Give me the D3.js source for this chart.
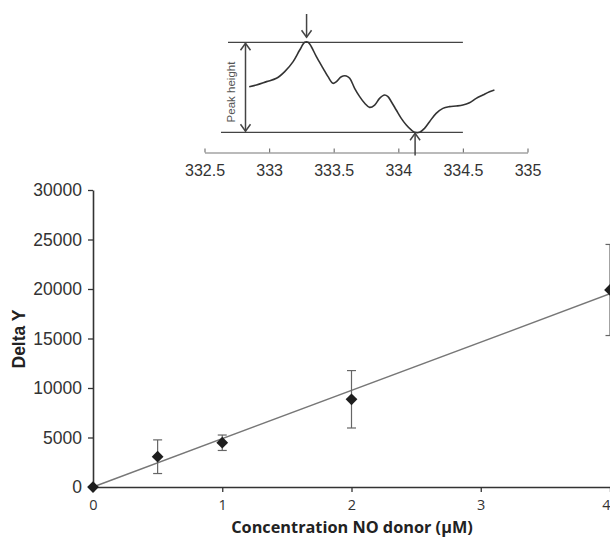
<!DOCTYPE html>
<html>
<head>
<meta charset="utf-8">
<script src="https://cdn.jsdelivr.net/npm/d3@7"></script>
<style>
  html, body { margin: 0; padding: 0; background: #ffffff; }
  svg { display: block; }
</style>
</head>
<body>
<svg id="chart" width="610" height="541"></svg>
<script>
// ---- Main chart data ----
const concentrations = [0, 0.5, 1, 2, 4];
const deltaY = [0, 3060, 4470, 8860, 19900];
const deltaYErr = [0, 1700, 780, 2900, 4600];
const trendSlope = 4880; // linear fit through origin
const yTicks = [0, 5000, 10000, 15000, 20000, 25000, 30000];
const xTicks = [0, 1, 2, 3, 4];

// ---- Inset spectrum data (field, relative signal) ----
const specField = [332.846, 332.902, 332.980, 333.057, 333.121, 333.186, 333.237, 333.276, 333.302, 333.327,
  333.366, 333.418, 333.456, 333.495, 333.521, 333.559, 333.598, 333.624, 333.662, 333.701,
  333.740, 333.778, 333.817, 333.855, 333.894, 333.920, 333.946, 333.984, 334.023, 334.062,
  334.100, 334.126, 334.165, 334.203, 334.242, 334.293, 334.345, 334.396, 334.448, 334.500,
  334.551, 334.603, 334.654, 334.706, 334.744];
const specSignal = [50.7, 52.6, 56.3, 60.0, 67.4, 78.5, 91.4, 100, 100, 95.1,
  84.0, 71.1, 61.8, 54.4, 56.3, 61.8, 62.6, 60.0, 48.9, 39.6,
  32.2, 27.7, 30.3, 37.7, 41.4, 39.6, 34.0, 24.8, 15.5, 8.1,
  2.6, 0, 0, 4.4, 11.8, 21.1, 26.6, 28.5, 29.2, 30.3,
  32.9, 37.7, 41.4, 45.1, 47.0];
const insetTicks = [332.5, 333, 333.5, 334, 334.5, 335];
const peakMaxField = 333.29;
const peakMinField = 334.13;

const svg = d3.select("#chart");
const axisColor = "#333";

// ================= Main chart =================
const x = d3.scaleLinear().domain([0, 4]).range([93, 610]);
const y = d3.scaleLinear().domain([0, 30000]).range([487, 190]);

// Y axis
const yAxis = svg.append("g")
  .attr("transform", `translate(${x(0)},0)`)
  .call(d3.axisLeft(y).tickValues(yTicks).tickSize(5).tickSizeOuter(0).tickPadding(6).tickFormat(d3.format("d")));
yAxis.select(".domain").attr("stroke", axisColor).attr("stroke-width", 1.6);
yAxis.selectAll(".tick line").attr("stroke", axisColor).attr("stroke-width", 1.3);
yAxis.selectAll(".tick text")
  .attr("fill", "#333").style("font-family", "'Liberation Sans', Arial, sans-serif").style("font-size", "17.5px");

// X axis
const xAxis = svg.append("g")
  .attr("transform", `translate(0,${y(0)})`)
  .call(d3.axisBottom(x).tickValues(xTicks).tickSize(5).tickSizeOuter(0).tickPadding(8).tickFormat(d3.format("d")));
xAxis.select(".domain").attr("stroke", axisColor).attr("stroke-width", 1.6);
xAxis.selectAll(".tick line").attr("stroke", axisColor).attr("stroke-width", 1.3);
xAxis.selectAll(".tick text")
  .attr("fill", "#333").style("font-family", "'Open Sans', sans-serif").style("font-size", "14.5px")
  .attr("text-anchor", d => d === 4 ? "end" : "middle");

// Trend line
svg.append("line")
  .attr("x1", x(0)).attr("y1", y(0))
  .attr("x2", x(4)).attr("y2", y(trendSlope * 4))
  .attr("stroke", "#777").attr("stroke-width", 1.4);

// Error bars
const pts = concentrations.map((c, i) => ({ c, v: deltaY[i], e: deltaYErr[i] }));
const eb = svg.append("g").attr("stroke", "#666").attr("stroke-width", 1.2);
pts.filter(d => d.e > 0).forEach(d => {
  eb.append("line").attr("x1", x(d.c)).attr("x2", x(d.c)).attr("y1", y(d.v - d.e)).attr("y2", y(d.v + d.e));
  eb.append("line").attr("x1", x(d.c) - 4.5).attr("x2", x(d.c) + 4.5).attr("y1", y(d.v + d.e)).attr("y2", y(d.v + d.e));
  eb.append("line").attr("x1", x(d.c) - 4.5).attr("x2", x(d.c) + 4.5).attr("y1", y(d.v - d.e)).attr("y2", y(d.v - d.e));
});

// Diamonds
svg.append("g").selectAll("path").data(pts).join("path")
  .attr("d", d3.symbol().type(d3.symbolDiamond2).size(88))
  .attr("transform", d => `translate(${x(d.c)},${y(d.v)})`)
  .attr("fill", "#1e1e1e");

// Axis titles
svg.append("text")
  .attr("transform", `translate(25,339) rotate(-90)`)
  .attr("text-anchor", "middle")
  .attr("fill", "#222")
  .style("font-family", "'Liberation Sans', Arial, sans-serif").style("font-size", "17.5px").style("font-weight", "bold")
  .text("Delta Y");

svg.append("text")
  .attr("x", 352).attr("y", 533)
  .attr("text-anchor", "middle")
  .attr("fill", "#222")
  .style("font-family", "'Open Sans', sans-serif").style("font-size", "16.3px").style("font-weight", "bold")
  .text("Concentration NO donor (μM)");

// ================= Inset =================
const ix = d3.scaleLinear().domain([332.5, 335]).range([204.5, 527.5]);
const iy = d3.scaleLinear().domain([0, 100]).range([132.3, 42.3]);
const insetAxisY = 152.5;
const gray = "#444";

const ia = svg.append("g")
  .attr("transform", `translate(0,${insetAxisY})`)
  .call(d3.axisBottom(ix).tickValues(insetTicks).tickSize(-4).tickSizeOuter(0).tickPadding(12).tickFormat(d => String(d)));
ia.select(".domain").attr("stroke", "#777").attr("stroke-width", 1.2);
ia.selectAll(".tick line").attr("stroke", "#777").attr("stroke-width", 1.2);
ia.selectAll(".tick text")
  .attr("fill", "#333").style("font-family", "'Liberation Sans', Arial, sans-serif").style("font-size", "16px");

// Reference horizontal lines
svg.append("line").attr("x1", 228).attr("x2", ix(334.5)).attr("y1", iy(100)).attr("y2", iy(100))
  .attr("stroke", gray).attr("stroke-width", 1.2);
svg.append("line").attr("x1", 221).attr("x2", ix(334.5)).attr("y1", iy(0)).attr("y2", iy(0))
  .attr("stroke", gray).attr("stroke-width", 1.2);

// Spectrum
const spec = specField.map((f, i) => [f, specSignal[i]]);
svg.append("path")
  .datum(spec)
  .attr("d", d3.line().x(d => ix(d[0])).y(d => iy(d[1])).curve(d3.curveCatmullRom.alpha(0.5)))
  .attr("fill", "none").attr("stroke", "#333").attr("stroke-width", 1.6);

// Arrow helper (open chevron head)
function arrowHead(px, py, dir) { // dir: 1 = pointing down, -1 = pointing up
  const h = 7 * dir, w = 5;
  svg.append("path")
    .attr("d", `M${px - w},${py - h} L${px},${py} L${px + w},${py - h}`)
    .attr("fill", "none").attr("stroke", gray).attr("stroke-width", 1.5);
}

// Down arrow at peak max
const ax1 = ix(peakMaxField);
svg.append("line").attr("x1", ax1).attr("x2", ax1).attr("y1", 14).attr("y2", iy(100) - 5)
  .attr("stroke", gray).attr("stroke-width", 1.5);
arrowHead(ax1, iy(100) - 5, 1);

// Up arrow at peak min
const ax2 = ix(peakMinField);
svg.append("line").attr("x1", ax2).attr("x2", ax2).attr("y1", iy(0) + 1).attr("y2", insetAxisY + 3)
  .attr("stroke", gray).attr("stroke-width", 1.5);
arrowHead(ax2, iy(0) + 1, -1);

// Double arrow "Peak height"
const dx = 245.5;
svg.append("line").attr("x1", dx).attr("x2", dx).attr("y1", iy(100) + 1).attr("y2", iy(0) - 1)
  .attr("stroke", gray).attr("stroke-width", 1.5);
arrowHead(dx, iy(100) + 1, -1);
arrowHead(dx, iy(0) - 1, 1);

svg.append("text")
  .attr("transform", `translate(235,92) rotate(-90)`)
  .attr("text-anchor", "middle")
  .attr("fill", "#555")
  .style("font-family", "'Liberation Sans', Arial, sans-serif").style("font-size", "11.5px")
  .text("Peak height");
</script>
</body>
</html>
